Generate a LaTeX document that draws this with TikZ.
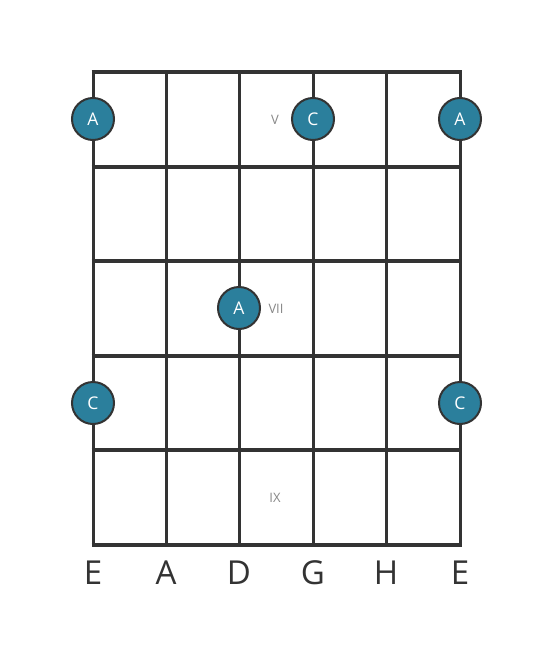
\documentclass[tikz,border=0pt]{standalone}
\usepackage{fontspec}
\setmainfont{Open Sans}
\definecolor{dotfill}{HTML}{2B7F9C}
\definecolor{linecol}{HTML}{333333}
\definecolor{labgrey}{HTML}{888888}
\tikzset{
  px/.style={x=1pt,y=-1pt},
  fretline/.style={draw=linecol,line width=4.5pt},
  stringline/.style={draw=linecol,line width=3pt},
  notedot/.style={circle,fill=dotfill,draw=linecol,line width=2pt,minimum size=42pt,inner sep=0pt,text=white,font=\fontsize{17.5}{17.5}\selectfont},
  fretlab/.style={text=labgrey,font=\fontsize{13}{13}\selectfont},
  stringlab/.style={text=linecol,font=\fontsize{33}{33}\selectfont}
}
\begin{document}
\begin{tikzpicture}[px]
\useasboundingbox (0,0) rectangle (553,656);
\fill[white] (0,0) rectangle (553,656);
% strings
\foreach \x in {93,166,239,313,386,460}{
  \draw[stringline] (\x,72) -- (\x,545);
}
% frets
\foreach \y in {72,167,261,356,450,545}{
  \draw[fretline] (91.5,\y) -- (461.5,\y);
}
% fret labels
\node[fretlab] (f5) at (275,120) {V};
\node[fretlab] (f7) at (276,309) {VII};
\node[fretlab] (f9) at (275,498) {IX};
% dots
\node[notedot] (d1) at (93,119) {A};
\node[notedot] (d2) at (313,119) {C};
\node[notedot] (d3) at (460,119) {A};
\node[notedot] (d4) at (239,308) {A};
\node[notedot] (d5) at (93,403) {C};
\node[notedot] (d6) at (460,403) {C};
% string labels
\node[stringlab] (s1) at (93,573) {E};
\node[stringlab] (s2) at (166,573) {A};
\node[stringlab] (s3) at (239,573) {D};
\node[stringlab] (s4) at (313,573) {G};
\node[stringlab] (s5) at (386,573) {H};
\node[stringlab] (s6) at (460,573) {E};
\end{tikzpicture}
\end{document}
